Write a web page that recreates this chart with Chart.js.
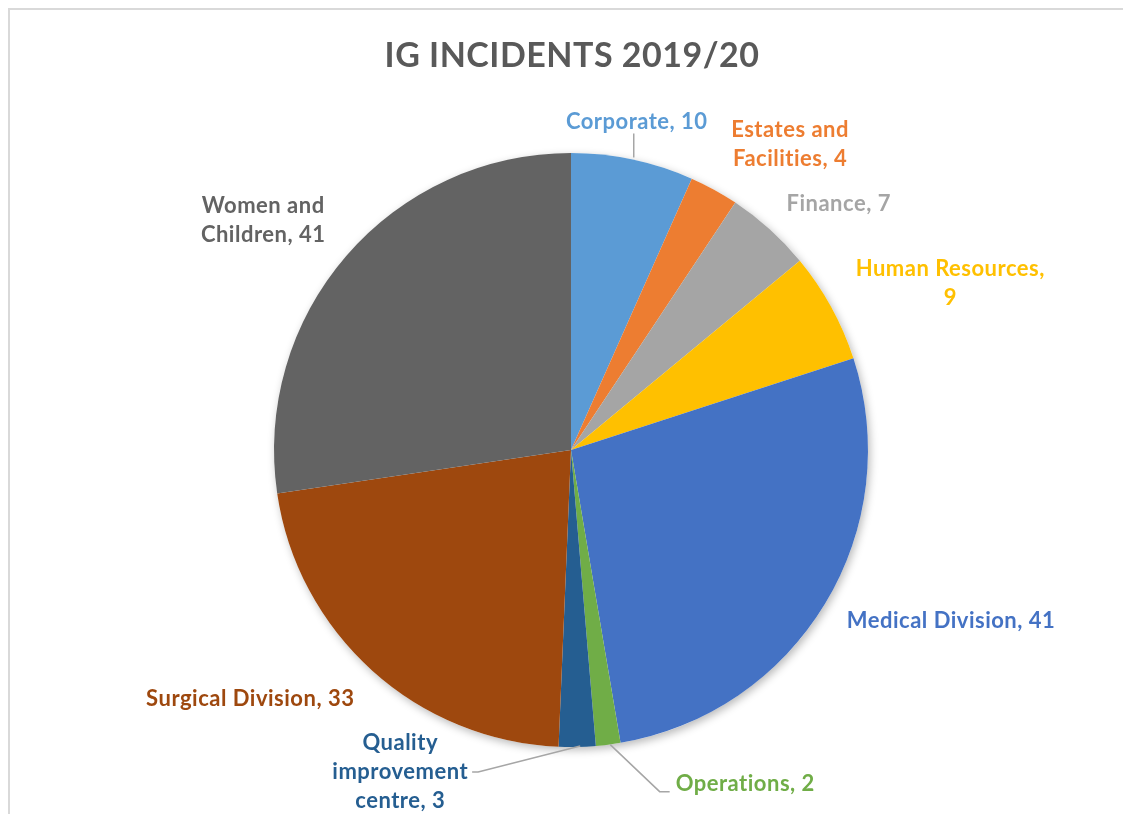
<!DOCTYPE html>
<html lang="en">
<head>
<meta charset="UTF-8">
<title>IG Incidents 2019/20</title>
<script src="https://cdn.jsdelivr.net/npm/chart.js"></script>
<style>
body{margin:0;background:#fff;overflow:hidden;}
.wrap{position:relative;width:1123px;height:814px;}
.frame{position:absolute;left:8px;top:8px;right:0;bottom:0;
    border-left:2px solid #d9d9d9;border-top:2px solid #d9d9d9;pointer-events:none;}
canvas{position:absolute;left:0;top:0;}
</style>
</head>
<body>
<div class="wrap">
    <canvas id="pie" width="1123" height="814"></canvas>
    <div class="frame"></div>
</div>
<script>
/* ---- data ---- */
const categories=["Corporate","Estates and Facilities","Finance","Human Resources",
    "Medical Division","Operations","Quality improvement centre","Surgical Division","Women and Children"];
const incidents=[10,4,7,9,41,2,3,33,41];
const sliceColors=["#5B9BD5","#ED7D31","#A5A5A5","#FFC000","#4472C4","#70AD47","#255E91","#9E480E","#636363"];

/* label text lines (as wrapped in the original) */
const labelLines=[
    ["Corporate, 10"],
    ["Estates and","Facilities, 4"],
    ["Finance, 7"],
    ["Human Resources,","9"],
    ["Medical Division, 41"],
    ["Operations, 2"],
    ["Quality","improvement","centre, 3"],
    ["Surgical Division, 33"],
    ["Women and","Children, 41"]
];

/* label placement: offset of label centre from slice outer midpoint, leader flag */
const labelStyle=[
    {dx:4,dy:-38,leader:"up"},
    {dx:76,dy:-45},
    {dx:69,dy:-25},
    {dx:119,dy:-24},
    {dx:126,dy:17},
    {dx:137,dy:39,leader:"right"},
    {dx:-177,dy:25,leader:"left"},
    {dx:-122,dy:28},
    {dx:-83,dy:-36}
];

const FONT="bold 22px Lato, 'Open Sans', sans-serif";
const LINE_H=29;

const shadowPlugin={
    id:"pieShadow",
    beforeDatasetsDraw(chart){
        const a=chart.getDatasetMeta(0).data[0];
        const ctx=chart.ctx;
        ctx.save();
        ctx.shadowColor="rgba(0,0,0,0.28)";
        ctx.shadowBlur=9;
        ctx.shadowOffsetX=2;
        ctx.shadowOffsetY=3;
        ctx.fillStyle="#fff";
        ctx.beginPath();
        ctx.arc(a.x,a.y,a.outerRadius,0,Math.PI*2);
        ctx.fill();
        ctx.restore();
    }
};

const labelPlugin={
    id:"sliceLabels",
    afterDatasetsDraw(chart){
        const ctx=chart.ctx;
        const arcs=chart.getDatasetMeta(0).data;
        ctx.save();
        /* title */
        ctx.font="bold 34px Lato, 'Open Sans', sans-serif";
        ctx.letterSpacing="0.5px";
        ctx.fillStyle="#595959";
        ctx.textAlign="center";
        ctx.textBaseline="middle";
        ctx.fillText("IG INCIDENTS 2019/20",572,56);

        ctx.font=FONT;
        arcs.forEach((arc,i)=>{
            const mid=(arc.startAngle+arc.endAngle)/2;
            const ox=arc.x+Math.cos(mid)*arc.outerRadius;
            const oy=arc.y+Math.sin(mid)*arc.outerRadius;
            const st=labelStyle[i];
            const cx=ox+st.dx, cy=oy+st.dy;
            const lines=labelLines[i];
            ctx.fillStyle=sliceColors[i];
            lines.forEach((t,k)=>{
                ctx.fillText(t,cx,cy+(k-(lines.length-1)/2)*LINE_H);
            });
            if(st.leader){
                ctx.strokeStyle="#a6a6a6";
                ctx.lineWidth=1.5;
                ctx.beginPath();
                if(st.leader==="up"){
                    ctx.moveTo(ox+1,oy-2);
                    ctx.lineTo(ox+1,cy+12);
                }else if(st.leader==="right"){
                    const w=ctx.measureText(lines[0]).width;
                    const ex=cx-w/2-6;
                    ctx.moveTo(ox+2,oy);
                    ctx.lineTo(ex-10,cy+8);
                    ctx.lineTo(ex,cy+8);
                }else{
                    const w=ctx.measureText(lines[1]).width;
                    const ex=cx+w/2+4;
                    ctx.moveTo(ox+3,oy-1);
                    ctx.lineTo(ex+6,cy);
                    ctx.lineTo(ex,cy);
                }
                ctx.stroke();
            }
        });
        ctx.restore();
    }
};

new Chart(document.getElementById("pie"),{
    type:"pie",
    data:{
        labels:categories,
        datasets:[{data:incidents,backgroundColor:sliceColors,borderWidth:0}]
    },
    options:{
        responsive:false,
        animation:false,
        layout:{padding:{left:274,right:255,top:153,bottom:67}},
        plugins:{legend:{display:false},tooltip:{enabled:false},title:{display:false}}
    },
    plugins:[shadowPlugin,labelPlugin]
});
</script>
</body>
</html>
